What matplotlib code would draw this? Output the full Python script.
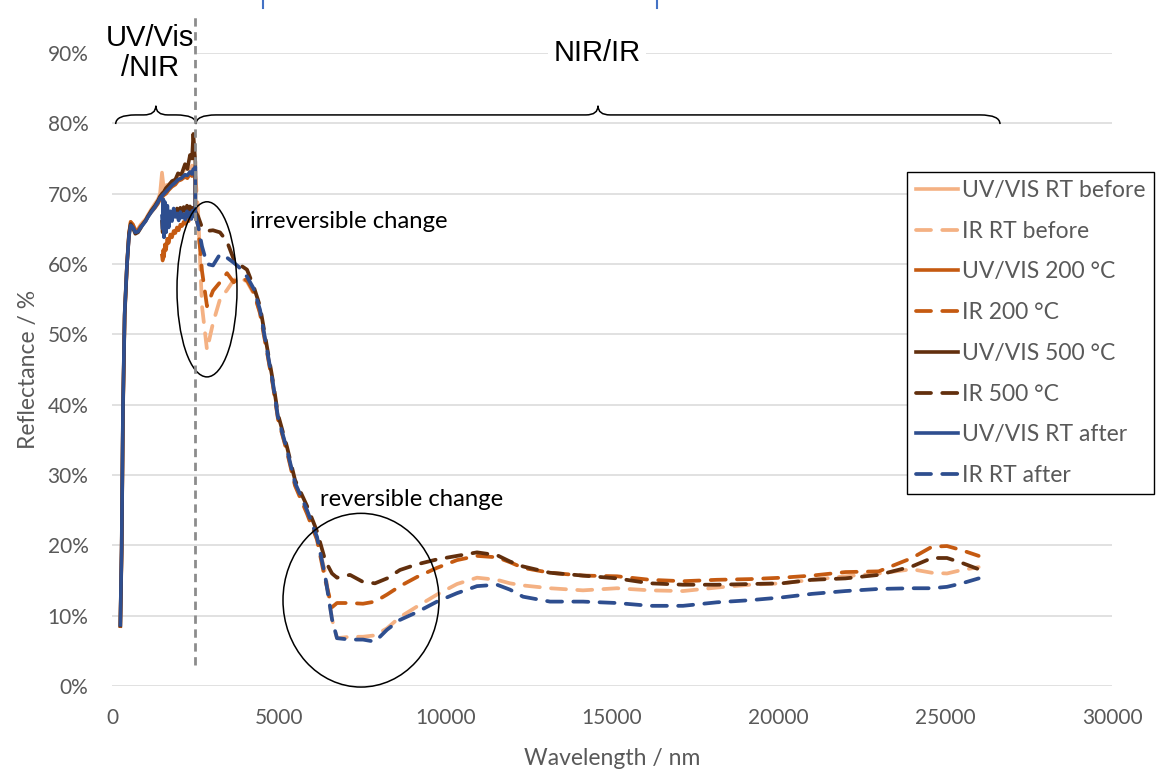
import numpy as np
import matplotlib
matplotlib.use("Agg")
import matplotlib.pyplot as plt
from matplotlib import font_manager
from matplotlib.patches import Ellipse, PathPatch
from matplotlib.path import Path
from matplotlib.lines import Line2D
from matplotlib.ticker import PercentFormatter, MultipleLocator

# --- fonts ---
installed = {f.name for f in font_manager.fontManager.ttflist}
body_font = 'Lato' if 'Lato' in installed else 'DejaVu Sans'
narrow_font = 'Liberation Sans Narrow' if 'Liberation Sans Narrow' in installed else 'Liberation Sans'
plt.rcParams['font.family'] = [body_font, 'DejaVu Sans']

# --- data: UV/VIS spectra (upper branch, rising wavelength) ---
uv_up_x = [250, 290, 330, 380, 450, 510, 560, 630, 700, 780, 860, 930, 1010, 1080, 1180,
           1290, 1380, 1440, 1500, 1560, 1620, 1700, 1800, 1900, 1980, 2080, 2190, 2260,
           2340, 2400, 2440, 2470, 2500]
uv_rt_before_up = [0.088, 0.20, 0.40, 0.532, 0.602, 0.645, 0.66, 0.656, 0.648, 0.65, 0.656, 0.66,
                   0.664, 0.67, 0.678, 0.686, 0.692, 0.70, 0.73, 0.705, 0.712, 0.713, 0.716, 0.72,
                   0.725, 0.728, 0.735, 0.738, 0.733, 0.74, 0.736, 0.73, 0.722]
uv_200_up = [0.085, 0.19, 0.39, 0.525, 0.598, 0.642, 0.66, 0.656, 0.648, 0.648, 0.654, 0.657,
             0.662, 0.668, 0.674, 0.68, 0.686, 0.692, 0.695, 0.698, 0.70, 0.705, 0.71, 0.713,
             0.718, 0.72, 0.724, 0.722, 0.728, 0.725, 0.73, 0.728, 0.732]
uv_500_up = [0.086, 0.195, 0.395, 0.528, 0.60, 0.643, 0.657, 0.651, 0.643, 0.645, 0.651, 0.657,
             0.662, 0.668, 0.676, 0.683, 0.69, 0.696, 0.70, 0.703, 0.708, 0.712, 0.718, 0.72,
             0.729, 0.727, 0.742, 0.735, 0.755, 0.75, 0.785, 0.765, 0.745]
uv_rt_after_up = [0.087, 0.20, 0.40, 0.53, 0.60, 0.64, 0.655, 0.652, 0.645, 0.646, 0.652, 0.656,
                  0.661, 0.667, 0.674, 0.681, 0.688, 0.694, 0.697, 0.70, 0.703, 0.707, 0.712,
                  0.716, 0.72, 0.722, 0.727, 0.726, 0.731, 0.728, 0.735, 0.732, 0.738]

# --- data: UV/VIS second segment (2500 nm back to 1500 nm) ---
uv_lo_x = [2500, 2460, 2420, 2380, 2340, 2300, 2250, 2200, 2150, 2100, 2050, 2000, 1950,
           1900, 1850, 1800, 1750, 1700, 1660, 1620, 1590, 1560, 1540, 1520, 1500]
uv_200_lo = [0.673, 0.668, 0.671, 0.665, 0.668, 0.661, 0.664, 0.657, 0.66, 0.654, 0.656, 0.648,
             0.652, 0.644, 0.647, 0.638, 0.642, 0.630, 0.636, 0.62, 0.628, 0.61, 0.62, 0.605, 0.612]
uv_500_lo = [0.678, 0.672, 0.68, 0.674, 0.682, 0.676, 0.683, 0.675, 0.681, 0.674, 0.68, 0.672,
             0.679, 0.67, 0.676, 0.665, 0.673, 0.66, 0.67, 0.655, 0.668, 0.65, 0.665, 0.645, 0.66]
uv_rt_after_lo = [0.672, 0.668, 0.676, 0.664, 0.673, 0.667, 0.675, 0.663, 0.671, 0.666, 0.674,
                  0.662, 0.672, 0.667, 0.679, 0.661, 0.675, 0.652, 0.683, 0.645, 0.688, 0.638,
                  0.692, 0.65, 0.668]

# --- data: IR spectra ---
ir_x = [2500, 2580, 2700, 2850, 3030, 3240, 3450, 3650, 3800, 4050, 4250, 4440, 4650, 4830,
        4980, 5250, 5490, 5850, 6150, 6400, 6600, 6750, 7140, 7530, 7890, 8250, 8640, 9150,
        9750, 10350, 10950, 11550, 11940, 12330, 13140, 14130, 15150, 16140, 17130, 18150,
        19140, 20100, 21000, 22000, 23000, 24000, 24600, 25050, 25500, 26000]
ir_rt_before = [0.725, 0.677, 0.54, 0.478, 0.516, 0.55, 0.563, 0.577, 0.582, 0.575, 0.558, 0.532,
                0.476, 0.428, 0.38, 0.334, 0.287, 0.248, 0.21, 0.16, 0.095, 0.068, 0.07, 0.07,
                0.072, 0.082, 0.098, 0.113, 0.13, 0.145, 0.154, 0.151, 0.146, 0.143, 0.139,
                0.136, 0.139, 0.136, 0.135, 0.14, 0.144, 0.146, 0.151, 0.156, 0.16, 0.166,
                0.161, 0.16, 0.165, 0.169]
ir_200 = [0.672, 0.655, 0.59, 0.54, 0.562, 0.574, 0.587, 0.574, 0.58, 0.577, 0.56, 0.53, 0.475,
          0.427, 0.38, 0.333, 0.285, 0.245, 0.208, 0.15, 0.112, 0.118, 0.118, 0.117, 0.12, 0.13,
          0.142, 0.155, 0.168, 0.179, 0.185, 0.183, 0.176, 0.168, 0.161, 0.157, 0.156, 0.151,
          0.149, 0.151, 0.152, 0.154, 0.157, 0.162, 0.163, 0.182, 0.198, 0.199, 0.193, 0.185]
ir_500 = [0.675, 0.668, 0.652, 0.647, 0.648, 0.645, 0.632, 0.607, 0.60, 0.592, 0.568, 0.54,
          0.482, 0.433, 0.386, 0.34, 0.293, 0.256, 0.22, 0.178, 0.16, 0.154, 0.158, 0.148, 0.146,
          0.153, 0.165, 0.173, 0.18, 0.185, 0.19, 0.186, 0.177, 0.17, 0.161, 0.157, 0.153, 0.146,
          0.144, 0.144, 0.145, 0.146, 0.151, 0.153, 0.158, 0.17, 0.182, 0.182, 0.175, 0.166]
ir_rt_after = [0.67, 0.655, 0.625, 0.60, 0.598, 0.614, 0.609, 0.602, 0.596, 0.582, 0.565, 0.535,
               0.478, 0.43, 0.382, 0.336, 0.289, 0.25, 0.212, 0.155, 0.095, 0.068, 0.066, 0.066,
               0.063, 0.08, 0.094, 0.105, 0.12, 0.132, 0.142, 0.144, 0.137, 0.127, 0.12, 0.12,
               0.118, 0.114, 0.114, 0.119, 0.122, 0.126, 0.131, 0.135, 0.138, 0.139, 0.139,
               0.141, 0.146, 0.153]

c_light = '#F4B183'
c_orange = '#C55A11'
c_brown = '#622F0D'
c_blue = '#2E4E8F'

series = [
    ('UV/VIS RT before', uv_up_x, uv_rt_before_up, c_light, '-'),
    ('IR RT before', ir_x, ir_rt_before, c_light, '--'),
    ('UV/VIS 200 °C', uv_up_x + uv_lo_x, uv_200_up + uv_200_lo, c_orange, '-'),
    ('IR 200 °C', ir_x, ir_200, c_orange, '--'),
    ('UV/VIS 500 °C', uv_up_x + uv_lo_x, uv_500_up + uv_500_lo, c_brown, '-'),
    ('IR 500 °C', ir_x, ir_500, c_brown, '--'),
    ('UV/VIS RT after', uv_up_x + uv_lo_x, uv_rt_after_up + uv_rt_after_lo, c_blue, '-'),
    ('IR RT after', ir_x, ir_rt_after, c_blue, '--'),
]

fig = plt.figure(figsize=(11.57, 7.72), dpi=100)
ax = fig.add_axes([0.0968, 0.1114, 0.8643, 0.8199])

for label, xs, ys, col, ls in series:
    if ls == '-':
        ax.plot(xs, ys, color=col, lw=2.6, label=label, solid_joinstyle='round')
    else:
        ax.plot(xs, ys, color=col, lw=2.7, label=label, dashes=(4, 3), dash_capstyle='round')

ax.set_xlim(0, 30000)
ax.set_ylim(0, 0.9)
ax.xaxis.set_major_locator(MultipleLocator(5000))
ax.yaxis.set_major_locator(MultipleLocator(0.1))
ax.yaxis.set_major_formatter(PercentFormatter(1.0, decimals=0))
ax.grid(axis='y', color='#D9D9D9', lw=1.1)
ax.set_axisbelow(True)
for s in ax.spines.values():
    s.set_visible(False)
ax.tick_params(length=0, labelsize=15, labelcolor='#595959')
ax.tick_params(axis='x', pad=16)
ax.tick_params(axis='y', pad=17)
ax.set_xlabel('Wavelength / nm', fontsize=16.5, color='#595959', labelpad=14)
ax.set_ylabel('Reflectance / %', fontsize=16.5, color='#595959', labelpad=6)

# detector change marker
ax.plot([2500, 2500], [0.03, 0.957], color='#8C8C8C', lw=2.0, dashes=(3, 2),
        clip_on=False, zorder=6)


def brace(x0, x1, y_end, y_arm, y_tip, r, r2):
    xm = (x0 + x1) / 2
    verts = [(x0, y_end), (x0, y_arm), (x0 + r, y_arm),
             (xm - r2, y_arm), (xm, y_arm), (xm, y_tip),
             (xm, y_arm), (xm + r2, y_arm),
             (x1 - r, y_arm), (x1, y_arm), (x1, y_end)]
    codes = [Path.MOVETO, Path.CURVE3, Path.CURVE3,
             Path.LINETO, Path.CURVE3, Path.CURVE3,
             Path.CURVE3, Path.CURVE3,
             Path.LINETO, Path.CURVE3, Path.CURVE3]
    ax.add_patch(PathPatch(Path(verts, codes), fill=False, ec='black', lw=1.1,
                           clip_on=False, zorder=5))


brace(110, 2520, 0.799, 0.812, 0.825, 600, 360)
brace(2520, 26640, 0.799, 0.812, 0.825, 600, 360)

ax.text(1140, 0.90, 'UV/Vis\n/NIR', family=narrow_font, fontsize=21, ha='center', va='center',
        linespacing=1.05, bbox=dict(fc='white', ec='none', pad=2), zorder=4)
ax.text(14550, 0.90, 'NIR/IR', family=narrow_font, fontsize=21, ha='center', va='center',
        bbox=dict(fc='white', ec='none', pad=4), zorder=4)

ax.add_patch(Ellipse((2850, 0.564), 1800, 0.249, fill=False, ec='black', lw=1.1,
                     clip_on=False, zorder=5))
ax.add_patch(Ellipse((7470, 0.122), 4680, 0.247, fill=False, ec='black', lw=1.1,
                     clip_on=False, zorder=5))
ax.text(4140, 0.66, 'irreversible change', fontsize=17.2, ha='left', va='center', zorder=5)
ax.text(6240, 0.2645, 'reversible change', fontsize=17.2, ha='left', va='center', zorder=5)

# stray marks at the top edge of the original figure
for xpix in (263, 657):
    fig.add_artist(Line2D([xpix / 1157, xpix / 1157], [1.0, 1 - 8 / 772],
                          color='#4472C4', lw=1.5, transform=fig.transFigure))

leg = fig.legend(loc='upper right', bbox_to_anchor=(1154 / 1157, 1 - 172 / 772),
                 fontsize=16.5, frameon=True, fancybox=False, framealpha=1,
                 edgecolor='black', borderaxespad=0, handlelength=1.85, handletextpad=0.2,
                 labelspacing=0.86, borderpad=0.35)
leg.get_frame().set_linewidth(1.0)
for t in leg.get_texts():
    t.set_color('#595959')

fig.savefig('out.png', dpi=100)
